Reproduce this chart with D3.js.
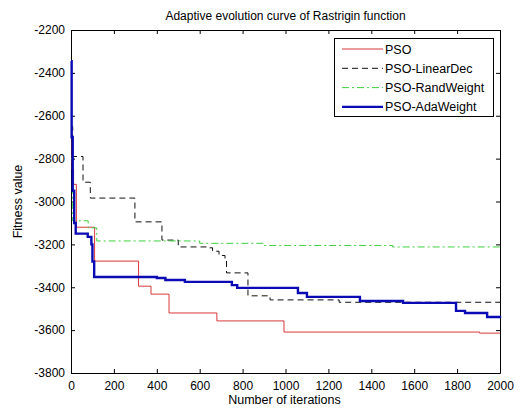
<!DOCTYPE html>
<html>
<head>
<meta charset="utf-8">
<script src="https://cdn.jsdelivr.net/npm/d3@7"></script>
<style>
  body { margin: 0; background: #fff; }
  text { font-family: "Liberation Sans", Arial, sans-serif; fill: #000; }
</style>
</head>
<body>
<div id="chart"></div>
<script>
// step curves: [iteration, fitness]
var psoData = [[0,-2680],[5,-2850],[12,-2920],[25,-3120],[110,-3278],[315,-3395],[373,-3432],[457,-3520],[680,-3557],[993,-3609],[1905,-3614],[2000,-3614]];
var linearDecData = [[0,-2650],[8,-2790],[56,-2910],[90,-2984],[298,-3095],[424,-3180],[500,-3212],[640,-3216],[660,-3232],[690,-3252],[718,-3273],[725,-3333],[825,-3440],[928,-3459],[1250,-3470],[2000,-3473]];
var randWeightData = [[0,-2800],[8,-3090],[80,-3123],[120,-3184],[600,-3195],[900,-3205],[1500,-3212],[2000,-3218]];
var adaWeightData = [[0,-2345],[3,-2700],[8,-2950],[15,-3100],[22,-3150],[78,-3165],[95,-3200],[100,-3280],[108,-3352],[400,-3357],[440,-3366],[531,-3375],[750,-3390],[775,-3403],[1058,-3427],[1100,-3445],[1347,-3464],[1548,-3473],[1795,-3510],[1837,-3520],[1940,-3539],[2000,-3542]];

var seriesNames = ["PSO", "PSO-LinearDec", "PSO-RandWeight", "PSO-AdaWeight"];
var xTicks = [0, 200, 400, 600, 800, 1000, 1200, 1400, 1600, 1800, 2000];
var yTicks = [-2200, -2400, -2600, -2800, -3000, -3200, -3400, -3600, -3800];

var width = 520, height = 409;
var margin = { top: 30, right: 20, bottom: 36, left: 71 };
var w = width - margin.left - margin.right,
    h = height - margin.top - margin.bottom;

var svg = d3.select("#chart").append("svg")
  .attr("width", width)
  .attr("height", height);

var g = svg.append("g")
  .attr("transform", "translate(" + margin.left + "," + margin.top + ")");

var x = d3.scaleLinear().domain([0, 2000]).range([0, w]);
var y = d3.scaleLinear().domain([-3800, -2200]).range([h, 0]);

// plain numbers, ascii minus, no thousands separator
var plain = function (d) { return String(d); };

// axes, matlab style: ticks pointing in, on all four sides
g.append("g").attr("transform", "translate(0," + h + ")")
  .call(d3.axisBottom(x).tickValues(xTicks).tickFormat(plain).tickSizeInner(-4).tickSizeOuter(0).tickPadding(8));
g.append("g")
  .call(d3.axisTop(x).tickValues(xTicks).tickSizeInner(-4).tickSizeOuter(0).tickFormat(""));
g.append("g")
  .call(d3.axisLeft(y).tickValues(yTicks).tickFormat(plain).tickSizeInner(-4).tickSizeOuter(0).tickPadding(6));
g.append("g").attr("transform", "translate(" + w + ",0)")
  .call(d3.axisRight(y).tickValues(yTicks).tickSizeInner(-4).tickSizeOuter(0).tickFormat(""));

g.selectAll(".domain").attr("stroke", "#000");
g.selectAll(".tick line").attr("stroke", "#000");
g.selectAll(".tick text").style("font-size", "12px")
  .style("font-family", "'Liberation Sans', Arial, sans-serif");

var line = d3.line()
  .x(function (d) { return x(d[0]); })
  .y(function (d) { return y(d[1]); })
  .curve(d3.curveStepAfter);

var styles = [
  { data: psoData, color: "#d9383a", width: 1, dash: null },
  { data: linearDecData, color: "#111", width: 1, dash: "6,4" },
  { data: randWeightData, color: "#3ed13e", width: 1, dash: "7,3,2,3" },
  { data: adaWeightData, color: "#0a0ab4", width: 2.4, dash: null }
];

styles.forEach(function (s) {
  g.append("path")
    .datum(s.data)
    .attr("fill", "none")
    .attr("stroke", s.color)
    .attr("stroke-width", s.width)
    .attr("stroke-dasharray", s.dash)
    .attr("d", line);
});

// legend
var legend = svg.append("g").attr("transform", "translate(334,38)");
legend.append("rect")
  .attr("x", 0.5).attr("y", 0.5)
  .attr("width", 159).attr("height", 78)
  .attr("fill", "#fff").attr("stroke", "#000");

styles.forEach(function (s, i) {
  var ly = 11 + i * 19.3;
  legend.append("line")
    .attr("x1", 8).attr("x2", 49)
    .attr("y1", ly).attr("y2", ly)
    .attr("stroke", s.color)
    .attr("stroke-width", s.width)
    .attr("stroke-dasharray", s.dash);
  legend.append("text")
    .attr("x", 51).attr("y", ly + 4.5)
    .style("font-size", "12.5px")
    .text(seriesNames[i]);
});

// titles
svg.append("text")
  .attr("x", margin.left + w / 2).attr("y", 20)
  .attr("text-anchor", "middle")
  .style("font-size", "12px")
  .text("Adaptive evolution curve of Rastrigin function");

svg.append("text")
  .attr("x", margin.left + w / 2 - 1).attr("y", 404)
  .attr("text-anchor", "middle")
  .style("font-size", "12.5px")
  .text("Number of iterations");

svg.append("text")
  .attr("transform", "translate(22," + (margin.top + h / 2) + ") rotate(-90)")
  .attr("text-anchor", "middle")
  .style("font-size", "12.5px")
  .text("Fitness value");
</script>
</body>
</html>
